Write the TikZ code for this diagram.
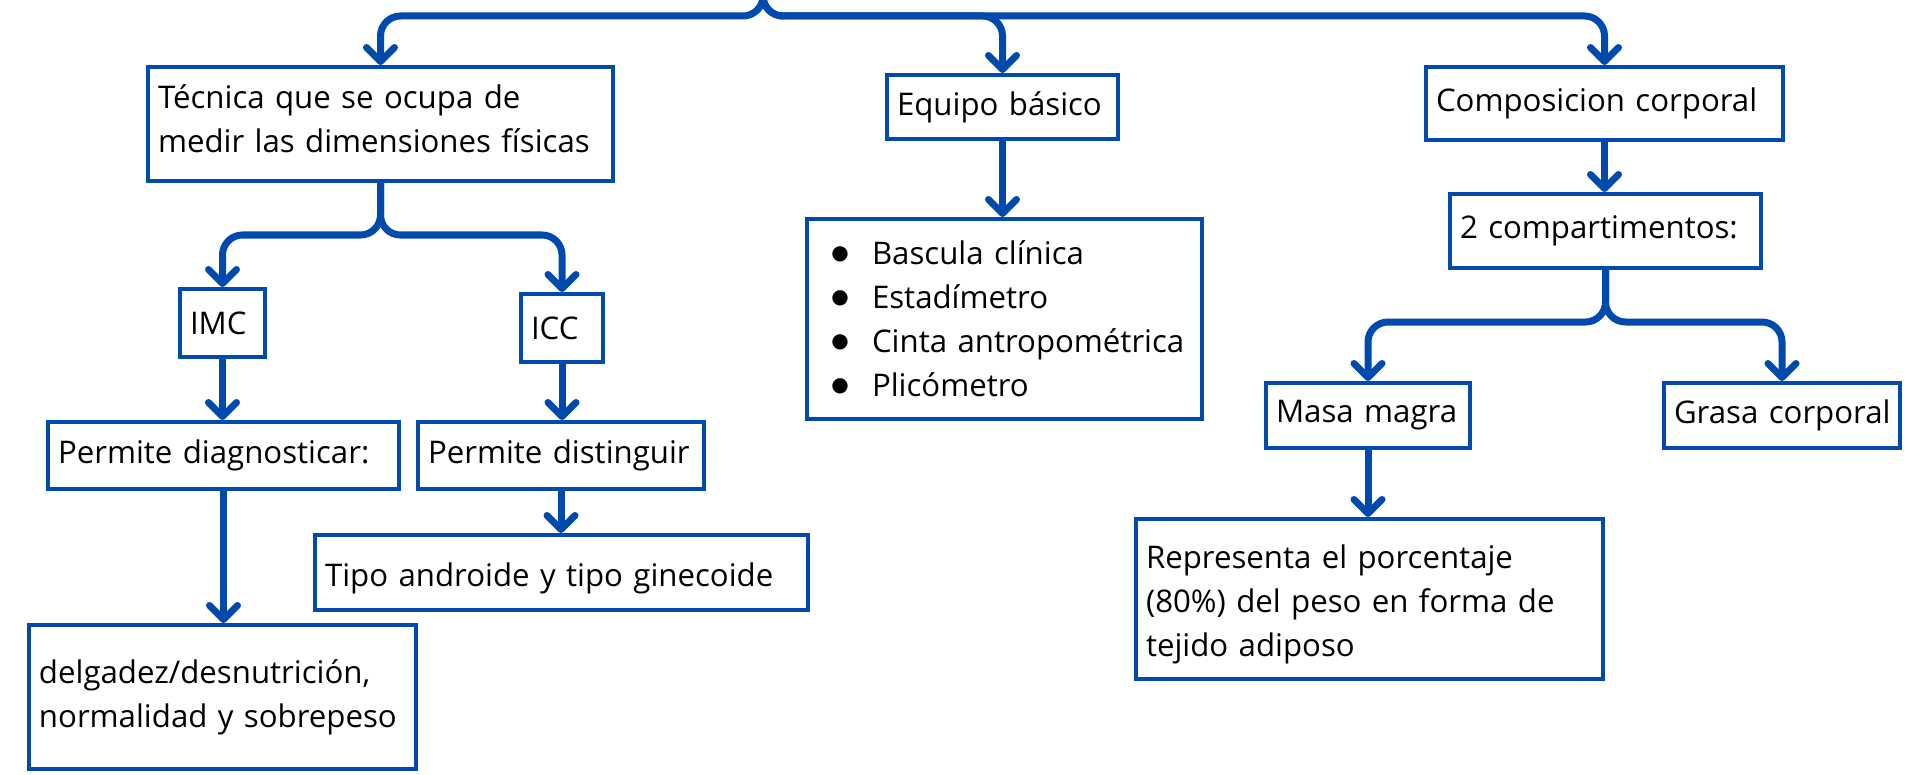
\documentclass[tikz,border=0pt]{standalone}
\usepackage{fontspec}
\setmainfont{Open Sans}
\newfontfamily\dejavu{DejaVu Sans}
\usetikzlibrary{arrows.meta}
\definecolor{blu}{HTML}{004AAD}
\newcommand\oneline[1]{\mbox{#1}}
\newcommand\bul{\makebox[7pt][c]{\raisebox{2.5pt}{\dejavu\fontsize{10}{10}\selectfont ●}}\hspace{12.5pt}}
\begin{document}
\begin{tikzpicture}[x=0.5pt,y=-0.5pt,
  box/.style={draw=blu, line width=2pt, rectangle, inner ysep=0pt, inner xsep=5pt, align=left,
    font=\fontsize{15.6}{22}\selectfont, text=black},
  txt/.style={inner sep=0pt, align=left, font=\fontsize{15.6}{22}\selectfont, text=black},
  arr/.style={draw=blu, line width=3.5pt, rounded corners=10pt,
    -{Straight Barb[round,length=7pt,width=14pt]}}]
\useasboundingbox (0,0) rectangle (1909,775);

\node[box, minimum width=232.5pt, minimum height=57pt] (tec) at (380.5,124) {};
\node[txt, text width=222.5pt, yshift=2.5pt] (tect) at (tec)
  {\oneline{Técnica que se ocupa de}\\\oneline{medir las dimensiones físicas}};
\node[box, text width=105.5pt, minimum height=32pt] (eq) at (1002.5,107) {\oneline{Equipo básico}};
\node[box, text width=168.5pt, minimum height=36.5pt] (comp) at (1604.5,103.5) {\oneline{Composicion corporal}};
\node[box, text width=32.5pt, minimum height=34pt] (imc) at (222.5,323) {IMC};
\node[box, text width=31pt, minimum height=34pt] (icc) at (562,328) {ICC};
\node[box, text width=165.5pt, minimum height=33.5pt] (pd) at (223.5,455.5) {\oneline{Permite diagnosticar:}};
\node[box, text width=133pt, minimum height=33.5pt] (pdist) at (561,455.5) {\oneline{Permite distinguir}};
\node[box, minimum width=246.5pt, minimum height=37.5pt] (tipo) at (561.5,572.5) {};
\node[txt, text width=236.5pt, yshift=-3pt] (tipot) at (tipo) {\oneline{Tipo androide y tipo ginecoide}};
\node[box, text width=183.5pt, minimum height=72pt] (del) at (222.5,697)
  {\oneline{delgadez/desnutrición,}\\\oneline{normalidad y sobrepeso}};
\node[box, inner xsep=13pt, text width=171.5pt, minimum height=100pt] (bul) at (1004.5,319)
  {\oneline{\bul Bascula clínica}\\\oneline{\bul Estadímetro}\\\oneline{\bul Cinta antropométrica}\\\oneline{\bul Plicómetro}};
\node[box, text width=145.5pt, minimum height=37pt] (dos) at (1605.5,231) {\oneline{2 compartimentos:}};
\node[box, text width=92pt, minimum height=32.5pt] (masa) at (1368,415.5) {\oneline{Masa magra}};
\node[box, text width=108pt, minimum height=32.5pt] (grasa) at (1782,415.5) {\oneline{Grasa corporal}};
\node[box, minimum width=233.5pt, minimum height=80pt] (rep) at (1369.5,599) {};
\node[txt, text width=223.5pt, yshift=-2.5pt] (rept) at (rep)
  {\oneline{Representa el porcentaje}\\\oneline{(80\%) del peso en forma de}\\\oneline{tejido adiposo}};

\coordinate (topc) at (763,-30);
\coordinate (tb) at (0,16);
\coordinate (hb1) at (0,235);
\coordinate (hb2) at (0,322);

\draw[arr] (topc) -- (topc |- tb) -| (tec.north);
\draw[arr] (topc) -- (topc |- tb) -| (eq.north);
\draw[arr] (topc) -- (topc |- tb) -| (comp.north);

\draw[arr] (tec.south) -- (tec.south |- hb1) -| (imc.north);
\draw[arr] (tec.south) -- (tec.south |- hb1) -| (icc.north);

\draw[arr] (dos.south) -- (dos.south |- hb2) -| (masa.north);
\draw[arr] (dos.south) -- (dos.south |- hb2) -| (grasa.north);

\draw[arr] (imc.south) -- (imc.south |- pd.north);
\draw[arr] (pd.south) -- (pd.south |- del.north);
\draw[arr] (icc.south) -- (icc.south |- pdist.north);
\draw[arr] (pdist.south) -- (pdist.south |- tipo.north);
\draw[arr] (eq.south) -- (eq.south |- bul.north);
\draw[arr] (comp.south) -- (comp.south |- dos.north);
\draw[arr] (masa.south) -- (masa.south |- rep.north);
\end{tikzpicture}
\end{document}
